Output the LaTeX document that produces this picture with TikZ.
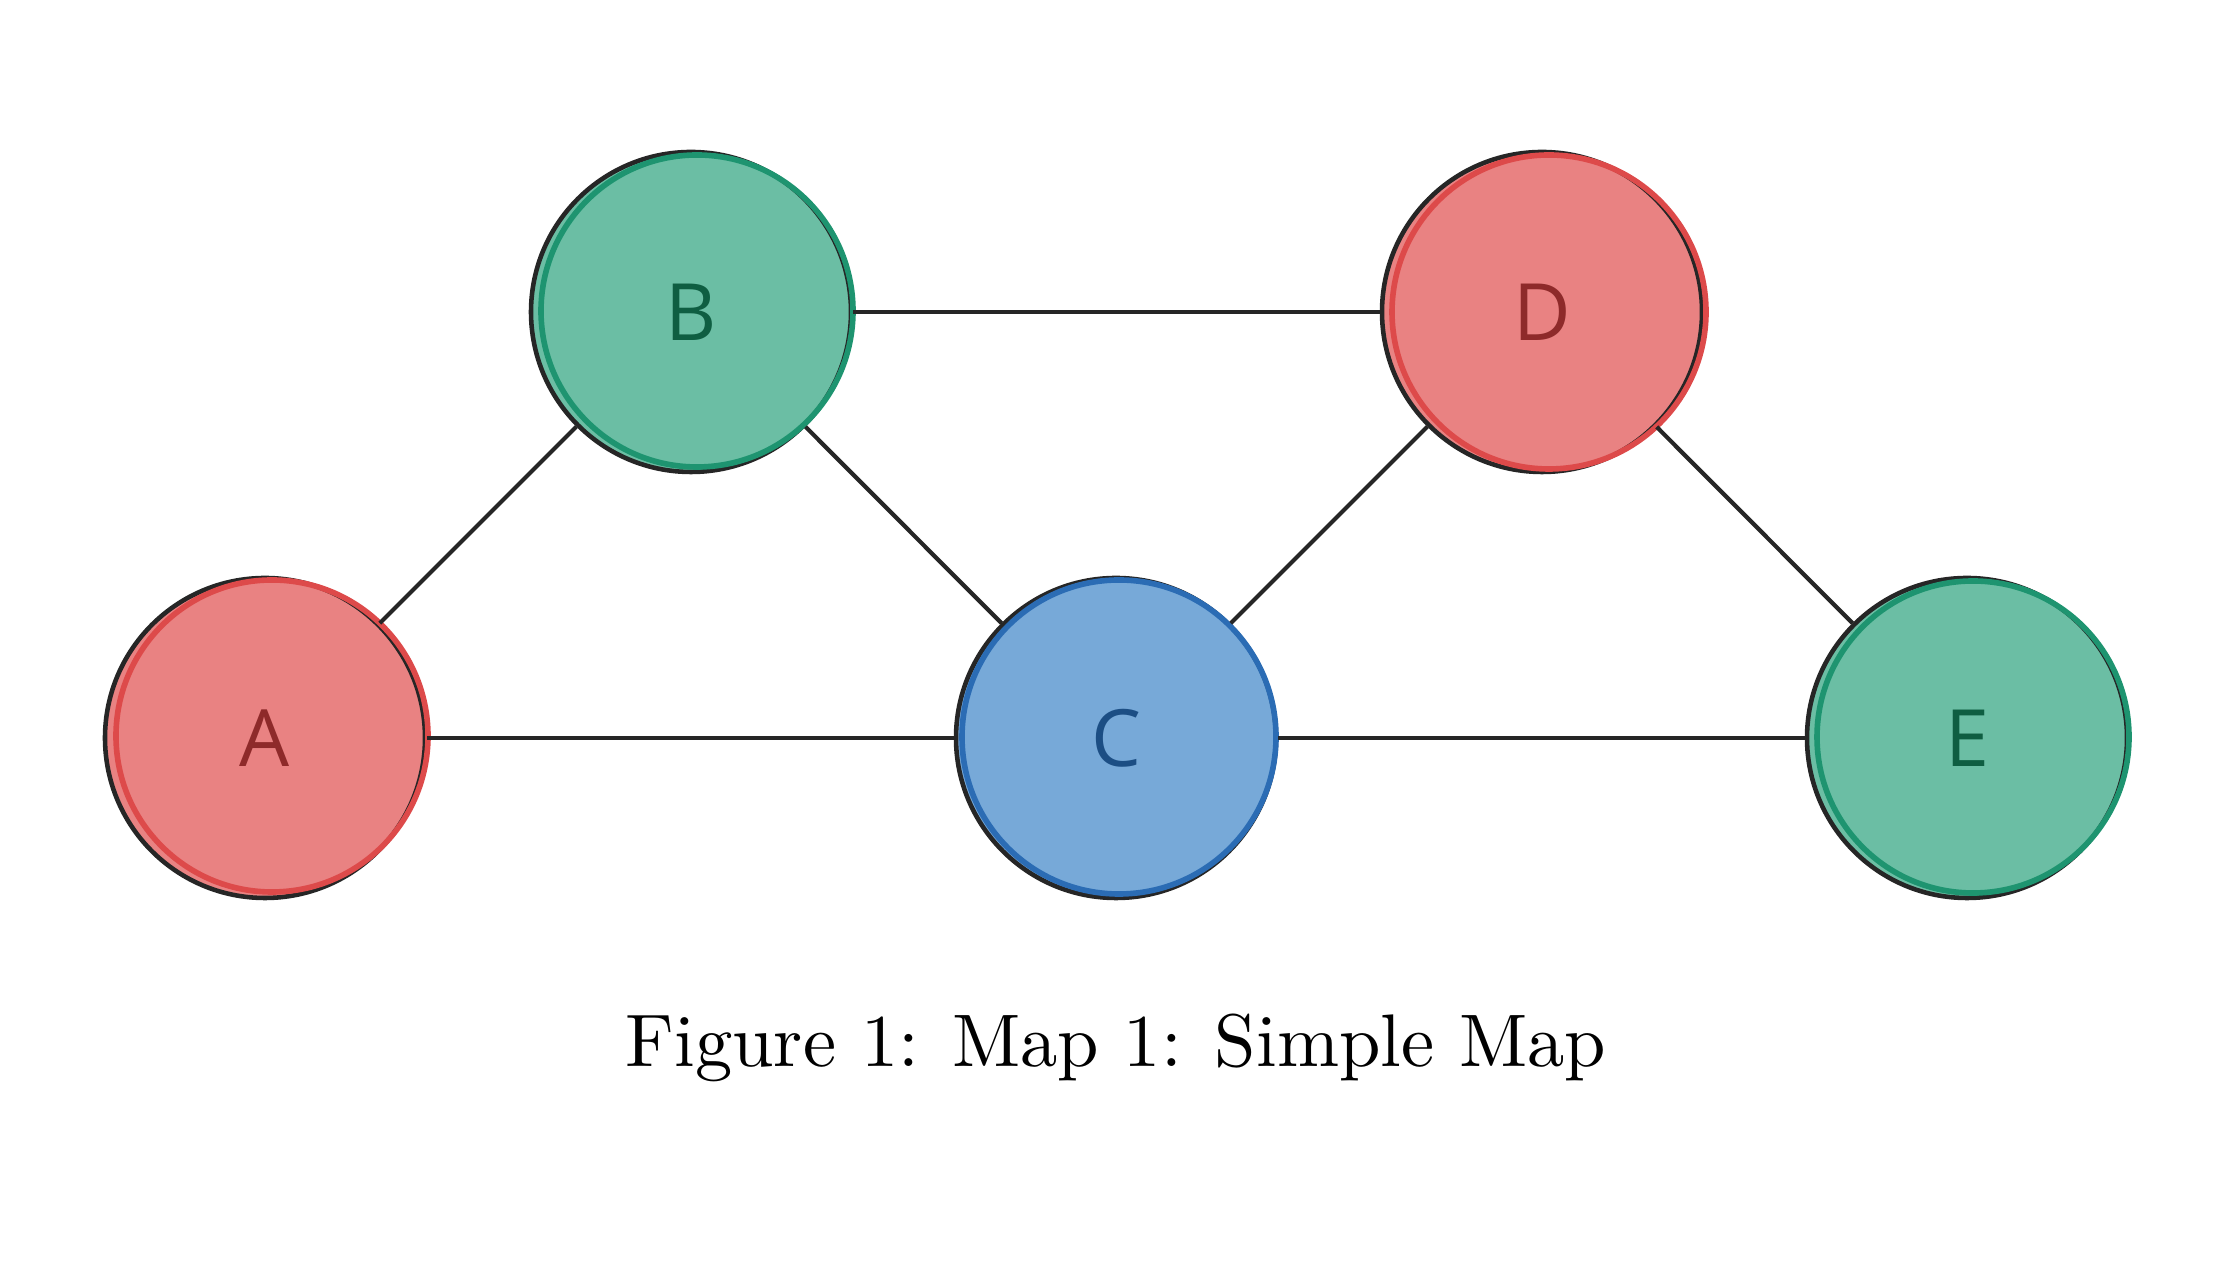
\documentclass[tikz,border=0pt]{standalone}
\usepackage{fontspec}
\newfontfamily\labelfont{Open Sans}
\usepackage{xcolor}
\usepackage{tikz}
\usetikzlibrary{positioning,calc}

\definecolor{mapred}{HTML}{E98282}
\definecolor{mapredline}{HTML}{DD4A4A}
\definecolor{mapredtext}{HTML}{8E2A2A}
\definecolor{mapgreen}{HTML}{6BBEA4}
\definecolor{mapgreenline}{HTML}{1E9470}
\definecolor{mapgreentext}{HTML}{0F5E42}
\definecolor{mapblue}{HTML}{77A9D8}
\definecolor{mapblueline}{HTML}{2B6CB4}
\definecolor{mapbluetext}{HTML}{1C4E84}

\tikzset{
    region/.style={circle,draw=black!85,line width=1.3pt,minimum size=3.2cm,inner sep=0pt,
        font=\labelfont\fontsize{22.5}{26}\selectfont},
    stroke/.style={line width=1.6pt,#1},
    road/.style={line width=1.2pt,draw=black!85}
}

\begin{document}
\begin{tikzpicture}
    \useasboundingbox (0,0) rectangle (22.26,12.62);

    % Regions
    \node[region,fill=mapred,text=mapredtext]     (A) at (2.65,5.24)  {A};
    \node[region,fill=mapgreen,text=mapgreentext] (B) at (6.91,9.50)  {B};
    \node[region,fill=mapblue,text=mapbluetext]   (C) at (11.16,5.24) {C};
    \node[region,fill=mapred,text=mapredtext]     (D) at (15.42,9.50) {D};
    \node[region,fill=mapgreen,text=mapgreentext] (E) at (19.67,5.24) {E};

    % Sketchy coloured outlines
    \draw[stroke=mapredline]   ($(A)+(0.07,0.02)$)  circle (1.56);
    \draw[stroke=mapgreenline] ($(B)+(0.06,0.01)$)  circle (1.56);
    \draw[stroke=mapblueline]  ($(C)+(0.03,0.01)$)  circle (1.57);
    \draw[stroke=mapredline]   ($(D)+(0.07,0.00)$)  circle (1.57);
    \draw[stroke=mapgreenline] ($(E)+(0.06,0.01)$)  circle (1.56);

    % Borders between regions
    \draw[road] (A) -- (B);
    \draw[road] (A) -- (C);
    \draw[road] (B) -- (C);
    \draw[road] (B) -- (D);
    \draw[road] (C) -- (D);
    \draw[road] (C) -- (E);
    \draw[road] (D) -- (E);

    % Caption
    \node[anchor=base,scale=2.12,font=\fontsize{10}{12}\selectfont] (cap) at (11.16,1.95)
        {Figure 1: Map 1: Simple Map};
\end{tikzpicture}
\end{document}
